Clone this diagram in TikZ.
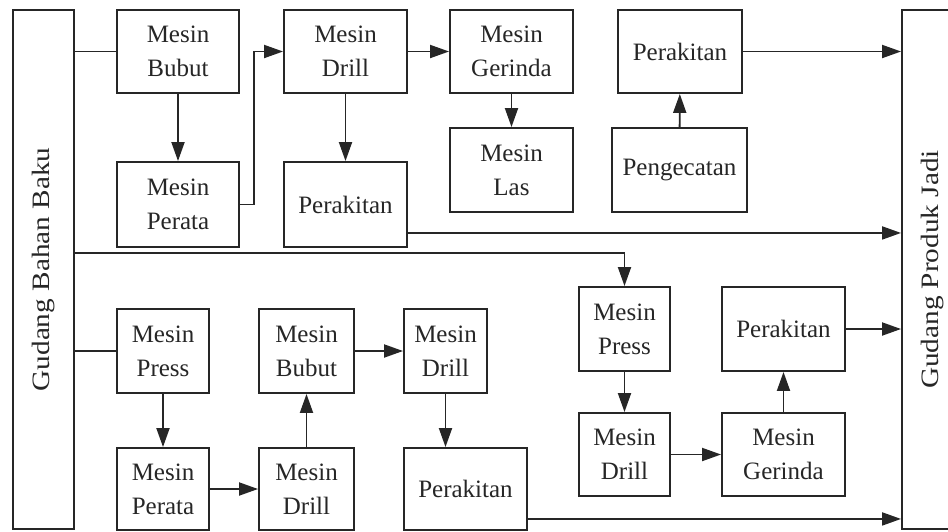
\documentclass[tikz,border=0pt]{standalone}
\usepackage{fontspec}
\setmainfont{Liberation Serif}
\usetikzlibrary{arrows.meta}

\begin{document}
\begin{tikzpicture}[x=1pt, y=-1pt,
    line width=1.9pt, color=black!85,
    box/.style={draw, rectangle, inner sep=0pt, align=center,
      font=\fontsize{25}{34}\selectfont},
    store/.style={draw, rectangle, inner sep=0pt,
      minimum width=61pt, minimum height=519pt,
      font=\fontsize{25}{30}\selectfont},
    arr/.style={-{Triangle[length=19pt, width=13pt]}}]
  \useasboundingbox (0,0) rectangle (948,531);
  \clip (0,0) rectangle (948,531);

  % gudang
  \node[store] (bahan) at (43.5,269.5) {\rotatebox{90}{\scalebox{1.17}[1]{Gudang Bahan Baku}}};
  \node[store] (produk) at (932.5,269.5) {\rotatebox{90}{\scalebox{1.17}[1]{Gudang Produk Jadi}}};

  % alur atas
  \node[box, minimum width=122pt, minimum height=83pt] (bubutA) at (178,51.5) {Mesin\\Bubut};
  \node[box, minimum width=122pt, minimum height=85pt] (perataA) at (178,204.5) {Mesin\\Perata};
  \node[box, minimum width=123pt, minimum height=83pt] (drillA) at (345.5,51.5) {Mesin\\Drill};
  \node[box, minimum width=123pt, minimum height=85pt] (rakitA) at (345.5,204.5) {Perakitan};
  \node[box, minimum width=123pt, minimum height=83pt] (gerindaA) at (511.5,51.5) {Mesin\\Gerinda};
  \node[box, minimum width=123pt, minimum height=84pt] (lasA) at (511.5,170) {Mesin\\Las};
  \node[box, minimum width=124pt, minimum height=83pt] (rakitB) at (680,51.5) {Perakitan};
  \node[box, minimum width=135pt, minimum height=84pt] (catB) at (679.5,170) {Pengecatan};

  % alur bawah kiri
  \node[box, minimum width=92pt, minimum height=84pt] (pressC) at (163,351) {Mesin\\Press};
  \node[box, minimum width=92pt, minimum height=82pt] (perataC) at (163,489) {Mesin\\Perata};
  \node[box, minimum width=95pt, minimum height=84pt] (bubutC) at (306.5,351) {Mesin\\Bubut};
  \node[box, minimum width=95pt, minimum height=82pt] (drillC) at (306.5,489) {Mesin\\Drill};
  \node[box, minimum width=83pt, minimum height=84pt] (drillD) at (445.5,351) {Mesin\\Drill};
  \node[box, minimum width=123pt, minimum height=82pt] (rakitD) at (465.5,489) {Perakitan};

  % alur bawah kanan
  \node[box, minimum width=91pt, minimum height=84pt] (pressE) at (624.5,329) {Mesin\\Press};
  \node[box, minimum width=91pt, minimum height=83pt] (drillE) at (624.5,454.5) {Mesin\\Drill};
  \node[box, minimum width=123pt, minimum height=84pt] (rakitF) at (783.5,329) {Perakitan};
  \node[box, minimum width=123pt, minimum height=83pt] (gerindaF) at (783.5,454.5) {Mesin\\Gerinda};

  \coordinate (r1) at ([yshift=15pt]rakitA.south east);
  \coordinate (r2) at ([yshift=12pt]rakitD.south east);
  \coordinate (b1) at (bahan.east |- 0,253);

  \draw (bahan.east |- bubutA.west) -- (bubutA.west);
  \draw[arr] (bubutA) -- (perataA);
  \draw[arr] (perataA.east) -- ++(14,0) |- (drillA.west);
  \draw[arr] (drillA) -- (gerindaA);
  \draw[arr] (drillA) -- (rakitA);
  \draw[arr] (r1) -- (r1 -| produk.west);
  \draw[arr] (gerindaA) -- (lasA);
  \draw[arr] (catB) -- (rakitB);
  \draw[arr] (rakitB) -- (rakitB -| produk.west);

  \draw[arr] (b1) -| (pressE.north);
  \draw (bahan.east |- pressC.west) -- (pressC.west);
  \draw[arr] (pressC) -- (perataC);
  \draw[arr] (perataC) -- (drillC);
  \draw[arr] (drillC) -- (bubutC);
  \draw[arr] (bubutC) -- (drillD);
  \draw[arr] (drillD.south) -- (drillD.south |- rakitD.north);
  \draw[arr] (r2) -- (r2 -| produk.west);

  \draw[arr] (pressE) -- (drillE);
  \draw[arr] (drillE) -- (gerindaF);
  \draw[arr] (gerindaF) -- (rakitF);
  \draw[arr] (rakitF) -- (rakitF -| produk.west);
\end{tikzpicture}
\end{document}
